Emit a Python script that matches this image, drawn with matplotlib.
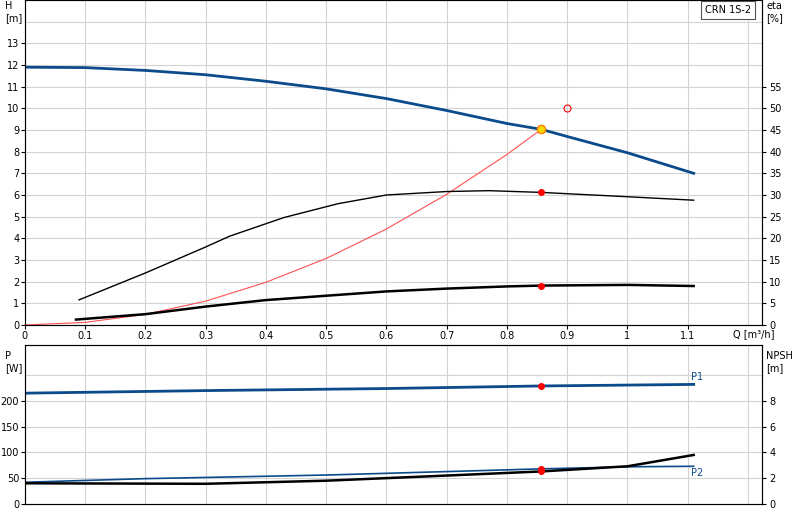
import numpy as np
import matplotlib
matplotlib.use("Agg")
import matplotlib.pyplot as plt

q_h = [0, 0.1, 0.2, 0.3, 0.4, 0.5, 0.6, 0.7, 0.8, 0.857, 0.9, 1.0, 1.11]
h = [11.9, 11.88, 11.75, 11.55, 11.25, 10.9, 10.45, 9.9, 9.3, 9.03, 8.7, 7.95, 7.0]
q_eta = [0.09, 0.2, 0.3, 0.34, 0.43, 0.52, 0.6, 0.7, 0.77, 0.857, 1.0, 1.11]
eta = [5.8, 12, 18, 20.5, 24.8, 28, 30, 30.8, 31, 30.6, 29.6, 28.8]
q_b = [0.085, 0.2, 0.3, 0.4, 0.5, 0.6, 0.7, 0.8, 0.857, 1.0, 1.11]
h_b = [0.25, 0.5, 0.85, 1.15, 1.35, 1.55, 1.68, 1.78, 1.82, 1.85, 1.8]
q_sys = [0, 0.1, 0.2, 0.3, 0.4, 0.5, 0.6, 0.7, 0.8, 0.857]
h_sys = [0, 0.12, 0.49, 1.1, 1.97, 3.07, 4.43, 6.03, 7.87, 9.03]
q_p = [0, 0.3, 0.6, 0.857, 1.11]
p1 = [215, 220, 224, 229, 232]
q_p2 = [0, 0.2, 0.5, 0.857, 1.0, 1.11]
p2 = [42, 49, 56, 68, 72, 73]
q_n = [0, 0.3, 0.5, 0.7, 0.857, 1.0, 1.11]
npsh = [1.6, 1.56, 1.8, 2.2, 2.52, 2.92, 3.8]
q_op = 0.857
xticks = [0, 0.1, 0.2, 0.3, 0.4, 0.5, 0.6, 0.7, 0.8, 0.9, 1.0, 1.1]

plt.rcParams['font.size'] = 7
fig = plt.figure(figsize=(8, 5.2), dpi=100)
ax = fig.add_axes([0.031, 0.375, 0.922, 0.625])
ax2 = fig.add_axes([0.031, 0.031, 0.922, 0.306])
XMAX = 1.224
gx = np.arange(0.1, XMAX, 0.1)
for a in (ax, ax2):
    a.set_xlim(0, XMAX)
    for g in gx:
        a.axvline(g, color='#d3d3d3', lw=0.8, zorder=0)
    a.tick_params(direction='out', length=3, pad=1)
    for s in a.spines.values():
        s.set_color('#555555')
ax.set_ylim(0, 15)
for g in range(1, 15):
    ax.axhline(g, color='#d3d3d3', lw=0.8, zorder=0)
ax.set_yticks(range(0, 14))
ax.set_xticks(xticks)
ax.set_xticklabels(['0'] + [f'{v:g}' for v in xticks[1:]])
axr = ax.twinx()
axr.set_ylim(0, 75)
axr.set_yticks(range(0, 60, 5))
axr.tick_params(direction='out', length=3, pad=2)
ax.plot(q_h, h, color='#0b4a8b', lw=2)
ax.plot(q_sys, h_sys, color='#ff5050', lw=0.8)
axr.plot(q_eta, eta, color='black', lw=1)
ax.plot(q_b, h_b, color='black', lw=1.8)
axr.plot([q_op], [30.6], 'o', color='red', ms=4)
ax.plot([q_op], [1.82], 'o', color='red', ms=4)
ax.plot([q_op], [9.03], 'o', color='#ffd700', mec='#ff8000', ms=6)
ax.plot([0.9], [10], 'o', mfc='none', mec='red', ms=5, mew=0.8)
fig.text(0.006, 0.998, 'H\n[m]', ha='left', va='top', fontsize=7)
fig.text(0.958, 0.998, 'eta\n[%]', ha='left', va='top', fontsize=7)
ax.text(1.176, -0.012, 'Q [m³/h]', transform=ax.get_xaxis_transform(), ha='left', va='top', fontsize=7)
ax.text(0.985, 0.985, 'CRN 1S-2', transform=ax.transAxes, ha='right', va='top', fontsize=7,
        bbox=dict(boxstyle='square,pad=0.4', fc='white', ec='#555555', lw=0.8))

ax2.set_ylim(0, 309)
for g in range(50, 300, 50):
    ax2.axhline(g, color='#d3d3d3', lw=0.8, zorder=0)
ax2.set_yticks(range(0, 250, 50))
ax2.set_xticks([])
ax2r = ax2.twinx()
ax2r.set_ylim(0, 309 / 25)
ax2r.set_yticks(range(0, 10, 2))
ax2r.tick_params(direction='out', length=3, pad=2)
ax2.plot(q_p, p1, color='#0b4a8b', lw=2)
ax2.plot(q_p2, p2, color='#0b4a8b', lw=1.2)
ax2r.plot(q_n, npsh, color='black', lw=1.8)
ax2.plot([q_op], [229], 'o', color='red', ms=4)
ax2.plot([q_op], [68], 'o', color='red', ms=4)
ax2r.plot([q_op], [2.52], 'o', color='red', ms=4)
ax2.text(1.105, 236, 'P1', color='#0b4a8b', fontsize=7, va='bottom')
ax2.text(1.105, 69, 'P2', color='#0b4a8b', fontsize=7, va='top')
fig.text(0.006, 0.325, 'P\n[W]', ha='left', va='top', fontsize=7)
fig.text(0.958, 0.325, 'NPSH\n[m]', ha='left', va='top', fontsize=7)
fig.savefig('out.png', dpi=100)
